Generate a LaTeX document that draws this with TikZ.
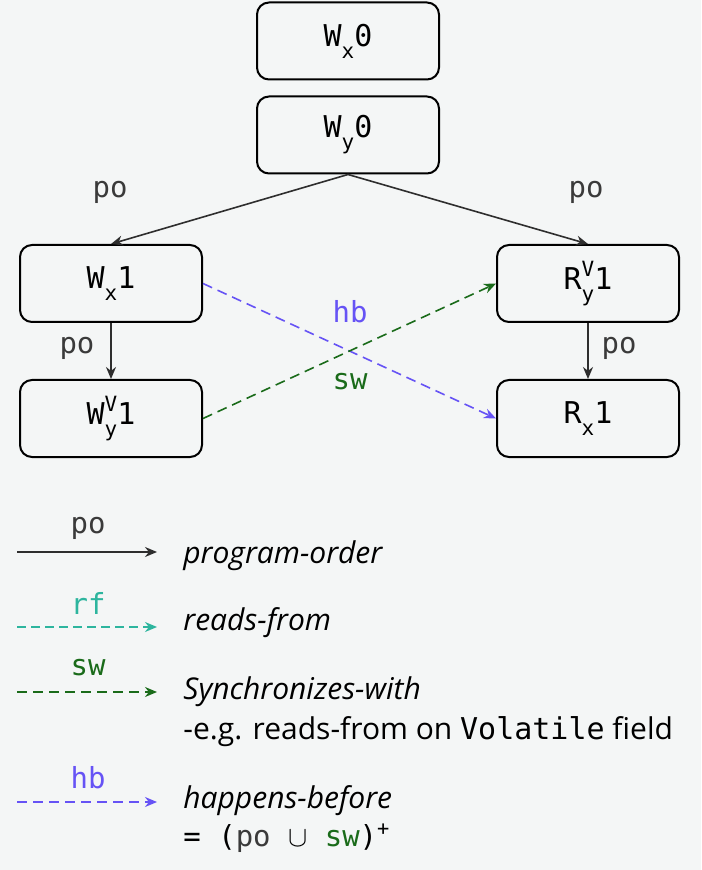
\documentclass[tikz,border=0pt]{standalone}
\usepackage{fontspec}
\usepackage{amsmath}
\setmainfont{Open Sans}
\setmonofont{DejaVu Sans Mono}
\usetikzlibrary{arrows.meta}

\definecolor{bgcol}{HTML}{F4F6F6}
\definecolor{pocol}{HTML}{2E2E2E}
\definecolor{lblcol}{HTML}{3A3A3A}
\definecolor{rfcol}{HTML}{2DB59E}
\definecolor{swcol}{HTML}{1A6B1A}
\definecolor{hbcol}{HTML}{6653F5}

% lowered subscript, optional raised superscript on top of it
\newcommand\scr[1]{{\fontsize{10.5}{11}\selectfont #1}}
\newcommand\sub[1]{\raisebox{-0.4em}{\scr{#1}}}
\newcommand\subsup[2]{\makebox[0pt][l]{\raisebox{0.45em}{\scr{#1}}}\raisebox{-0.4em}{\scr{#2}}}

\tikzset{
  event/.style={draw=black, line width=1pt, rounded corners=6pt,
    minimum width=91pt, minimum height=38.5pt,
    font=\ttfamily\fontsize{15}{17}\selectfont},
  rel/.style={line width=0.8pt, -{Stealth[length=6pt,width=5pt]}},
  porel/.style={rel, draw=pocol},
  rfrel/.style={rel, draw=rfcol, dash pattern=on 4.5pt off 2.5pt},
  swrel/.style={rel, draw=swcol, dash pattern=on 5pt off 3pt},
  hbrel/.style={rel, draw=hbcol, dash pattern=on 5pt off 3pt},
  lbl/.style={font=\ttfamily\fontsize{14.5}{16}\selectfont, inner sep=0pt},
  desc/.style={anchor=base west, inner sep=0pt, font=\fontsize{15}{18}\selectfont}
}

\begin{document}
\begin{tikzpicture}[x=0.5pt,y=-0.5pt]
  \path[use as bounding box, fill=bgcol] (0,0) rectangle (701,870);

  % events
  \node[event] (wx0) at (348,41) {W\sub{x}0};
  \node[event] (wy0) at (348,135) {W\sub{y}0};
  \node[event] (wx1) at (111,283.5) {W\sub{x}1};
  \node[event] (wy1) at (111,418.5) {W\subsup{V}{y}1};
  \node[event] (ry1) at (588,283.5) {R\subsup{V}{y}1};
  \node[event] (rx1) at (588,418.5) {R\sub{x}1};

  % relations
  \draw[porel] (wy0.south) -- (wx1.north);
  \draw[porel] (wy0.south) -- (ry1.north);
  \draw[porel] (wx1) -- (wy1);
  \draw[porel] (ry1) -- (rx1);
  \draw[hbrel] (wx1.east) -- (rx1.west);
  \draw[swrel] (wy1.east) -- (ry1.west);

  \node[lbl, text=lblcol] (po1) at (110,192) {po};
  \node[lbl, text=lblcol] (po2) at (586,192) {po};
  \node[lbl, text=lblcol] (po3) at (77,348) {po};
  \node[lbl, text=lblcol] (po4) at (619,348) {po};
  \node[lbl, text=hbcol] (hb1) at (350,312) {hb};
  \node[lbl, text=swcol] (sw1) at (350,382) {sw};

  % legend
  \coordinate (lpoa) at (17,552);  \coordinate (lpob) at (157,552);
  \coordinate (lrfa) at (17,627);  \coordinate (lrfb) at (157,627);
  \coordinate (lswa) at (17,692);  \coordinate (lswb) at (157,692);
  \coordinate (lhba) at (17,802);  \coordinate (lhbb) at (157,802);

  \draw[porel] (lpoa) -- (lpob);
  \draw[rfrel] (lrfa) -- (lrfb);
  \draw[swrel] (lswa) -- (lswb);
  \draw[hbrel] (lhba) -- (lhbb);

  \node[lbl, text=lblcol] (lpo) at (88,528) {po};
  \node[lbl, text=rfcol] (lrf) at (88,603) {rf};
  \node[lbl, text=swcol] (lsw) at (88,668) {sw};
  \node[lbl, text=hbcol] (lhb) at (88,778) {hb};

  \node[desc] (dpo) at (183,563) {\itshape program-order};
  \node[desc] (drf) at (183,630) {\itshape reads-from};
  \node[desc] (dsw) at (183,699) {\itshape Synchronizes-with};
  \node[desc] (dsw2) at (183,739) {-e.g. reads-from on \texttt{Volatile} field};
  \node[desc] (dhb) at (183,808) {\itshape happens-before};
  \node[desc, font=\ttfamily\fontsize{14.5}{16}\selectfont] (dhb2) at (183,846)
    {= ({\color{lblcol}po} $\cup$ {\color{swcol}sw})\textsuperscript{+}};
\end{tikzpicture}
\end{document}
